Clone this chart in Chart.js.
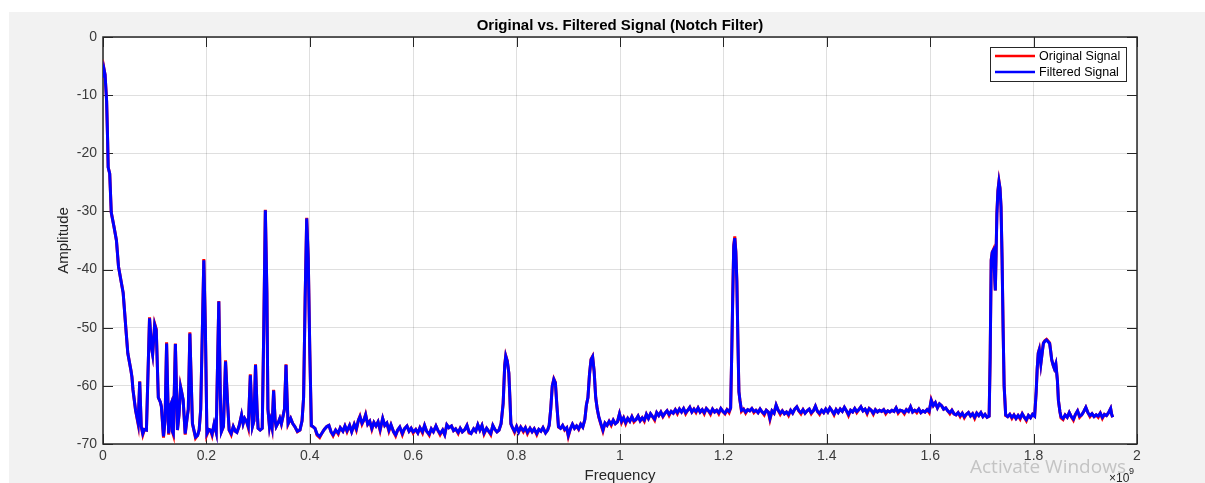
<!DOCTYPE html>
<html>
<head>
<meta charset="utf-8">
<title>Original vs. Filtered Signal (Notch Filter)</title>
<script src="https://cdn.jsdelivr.net/npm/chart.js@4.4.1/dist/chart.umd.min.js"></script>
<style>
  html, body { margin: 0; padding: 0; background: #fff; overflow: hidden; }
  #wrap { width: 1205px; height: 483px; }
</style>
</head>
<body>
<div id="wrap"><canvas id="chart" width="1205" height="483"></canvas></div>
<script>
// frequency, in units of 1e9 (axis shows the x10^9 multiplier)
const freq = [
  0.000, 0.002, 0.004, 0.007, 0.009, 0.010, 0.013, 0.016, 0.021, 0.026,
  0.030, 0.035, 0.039, 0.045, 0.048, 0.054, 0.056, 0.058, 0.063, 0.068,
  0.071, 0.074, 0.077, 0.080, 0.084, 0.090, 0.094, 0.096, 0.100, 0.103,
  0.107, 0.111, 0.113, 0.117, 0.120, 0.123, 0.127, 0.130, 0.132, 0.134,
  0.136, 0.140, 0.144, 0.147, 0.150, 0.152, 0.155, 0.159, 0.163, 0.165,
  0.168, 0.173, 0.179, 0.183, 0.186, 0.189, 0.195, 0.198, 0.201, 0.205,
  0.208, 0.211, 0.215, 0.219, 0.224, 0.227, 0.229, 0.233, 0.237, 0.241,
  0.244, 0.248, 0.252, 0.256, 0.259, 0.263, 0.268, 0.271, 0.274, 0.278,
  0.281, 0.285, 0.289, 0.292, 0.295, 0.298, 0.300, 0.304, 0.308, 0.311,
  0.314, 0.317, 0.319, 0.322, 0.324, 0.327, 0.330, 0.333, 0.335, 0.339,
  0.342, 0.345, 0.348, 0.351, 0.354, 0.356, 0.358, 0.363, 0.367, 0.371,
  0.376, 0.381, 0.385, 0.388, 0.391, 0.394, 0.397, 0.400, 0.403, 0.406,
  0.410, 0.414, 0.419, 0.423, 0.428, 0.433, 0.437, 0.441, 0.445, 0.450,
  0.455, 0.459, 0.464, 0.468, 0.472, 0.477, 0.481, 0.486, 0.490, 0.494,
  0.497, 0.501, 0.505, 0.508, 0.512, 0.516, 0.520, 0.524, 0.528, 0.532,
  0.536, 0.541, 0.545, 0.549, 0.553, 0.557, 0.562, 0.566, 0.570, 0.574,
  0.579, 0.583, 0.588, 0.592, 0.596, 0.600, 0.605, 0.609, 0.613, 0.618,
  0.622, 0.626, 0.631, 0.635, 0.639, 0.644, 0.648, 0.652, 0.657, 0.661,
  0.665, 0.669, 0.674, 0.678, 0.682, 0.687, 0.691, 0.695, 0.700, 0.704,
  0.708, 0.712, 0.717, 0.721, 0.725, 0.729, 0.733, 0.737, 0.742, 0.746,
  0.750, 0.754, 0.758, 0.762, 0.766, 0.770, 0.774, 0.777, 0.779, 0.782,
  0.785, 0.787, 0.789, 0.792, 0.796, 0.800, 0.804, 0.808, 0.813, 0.817,
  0.821, 0.826, 0.830, 0.834, 0.839, 0.843, 0.847, 0.851, 0.856, 0.860,
  0.863, 0.866, 0.869, 0.872, 0.875, 0.878, 0.881, 0.885, 0.889, 0.893,
  0.897, 0.900, 0.904, 0.908, 0.912, 0.916, 0.920, 0.924, 0.928, 0.932,
  0.935, 0.938, 0.941, 0.944, 0.947, 0.950, 0.953, 0.956, 0.959, 0.963,
  0.967, 0.971, 0.975, 0.979, 0.983, 0.987, 0.991, 0.995, 0.999, 1.003,
  1.007, 1.011, 1.015, 1.019, 1.023, 1.027, 1.031, 1.035, 1.039, 1.043,
  1.047, 1.051, 1.055, 1.059, 1.063, 1.067, 1.071, 1.075, 1.079, 1.083,
  1.087, 1.091, 1.095, 1.099, 1.103, 1.107, 1.111, 1.115, 1.119, 1.123,
  1.127, 1.131, 1.135, 1.139, 1.143, 1.147, 1.151, 1.155, 1.159, 1.163,
  1.167, 1.171, 1.175, 1.179, 1.183, 1.187, 1.191, 1.195, 1.199, 1.203,
  1.207, 1.211, 1.214, 1.216, 1.218, 1.220, 1.222, 1.224, 1.226, 1.228,
  1.230, 1.232, 1.235, 1.239, 1.243, 1.247, 1.251, 1.255, 1.259, 1.263,
  1.267, 1.271, 1.275, 1.279, 1.283, 1.287, 1.290, 1.294, 1.298, 1.302,
  1.306, 1.310, 1.314, 1.318, 1.322, 1.326, 1.330, 1.334, 1.338, 1.342,
  1.346, 1.350, 1.354, 1.358, 1.362, 1.366, 1.370, 1.374, 1.378, 1.382,
  1.386, 1.390, 1.394, 1.398, 1.402, 1.406, 1.410, 1.414, 1.418, 1.422,
  1.426, 1.430, 1.434, 1.438, 1.442, 1.446, 1.450, 1.454, 1.458, 1.462,
  1.466, 1.470, 1.474, 1.478, 1.482, 1.486, 1.490, 1.494, 1.498, 1.502,
  1.506, 1.510, 1.514, 1.518, 1.522, 1.526, 1.530, 1.534, 1.538, 1.542,
  1.546, 1.550, 1.554, 1.558, 1.562, 1.566, 1.570, 1.574, 1.578, 1.582,
  1.586, 1.590, 1.594, 1.598, 1.602, 1.606, 1.610, 1.614, 1.618, 1.622,
  1.626, 1.630, 1.634, 1.638, 1.642, 1.646, 1.650, 1.654, 1.658, 1.662,
  1.666, 1.670, 1.674, 1.678, 1.682, 1.686, 1.690, 1.694, 1.698, 1.702,
  1.706, 1.710, 1.714, 1.716, 1.718, 1.720, 1.722, 1.724, 1.726, 1.729,
  1.731, 1.733, 1.735, 1.737, 1.739, 1.741, 1.743, 1.746, 1.750, 1.754,
  1.758, 1.762, 1.766, 1.770, 1.774, 1.778, 1.782, 1.786, 1.790, 1.794,
  1.798, 1.802, 1.805, 1.807, 1.809, 1.811, 1.814, 1.817, 1.819, 1.822,
  1.825, 1.828, 1.831, 1.833, 1.835, 1.838, 1.840, 1.843, 1.846, 1.848,
  1.851, 1.853, 1.857, 1.861, 1.865, 1.869, 1.873, 1.877, 1.881, 1.885,
  1.889, 1.893, 1.897, 1.901, 1.905, 1.909, 1.913, 1.917, 1.921, 1.925,
  1.929, 1.933, 1.937, 1.941, 1.945, 1.949, 1.951, 1.953
];

// amplitude of the unfiltered spectrum (red)
const originalSignal = [
  -7.0, -5.5, -6.5, -11, -18, -22.4, -23.5, -30.2, -32.5, -35,
  -39.5, -42, -44, -51, -54.4, -57.3, -58.5, -60.7, -64.2, -66.6,
  -59.2, -67, -68.4, -67.5, -67.6, -48.2, -53.5, -54.6, -49.3, -50.2,
  -62, -62.8, -63.6, -68.9, -66, -52.5, -68.4, -63.5, -63, -67.8,
  -68.4, -52.7, -67.6, -65, -60.1, -61, -62.4, -68.4, -65.3, -64,
  -50.8, -66.5, -69, -68.5, -67.6, -64, -38.2, -50, -68.4, -67.5,
  -67.6, -68.5, -66.6, -68, -45.4, -62, -67.9, -67, -55.6, -63,
  -67.6, -68.4, -67, -67.8, -68, -67, -65, -66.5, -65.6, -66.2,
  -67.2, -58, -67, -66, -56.3, -64, -67.3, -67.6, -67.3, -50,
  -29.7, -44, -64, -67, -66, -67.3, -60.7, -66, -67, -66.3,
  -65.6, -66.6, -65.3, -64, -56.3, -62, -66.6, -65.6, -66.5, -67,
  -67.9, -67.6, -66, -62, -45, -31.1, -38, -54, -66.9, -67,
  -67.3, -68.5, -68.9, -68.2, -67.5, -67, -66.8, -67.9, -68.6, -67.6,
  -68.3, -67.2, -67.8, -66.9, -67.9, -66.8, -67.9, -66.6, -67.6, -65.9,
  -65.2, -66.6, -65.8, -64.9, -66.6, -66.1, -67.5, -66.3, -66.9, -66.2,
  -67.7, -65.6, -66.8, -66.4, -67.8, -66.7, -67.9, -68.6, -67.6, -67.1,
  -68.4, -67.4, -66.9, -67.8, -67.3, -68.1, -67.5, -68.1, -67.2, -68.1,
  -66.8, -67.8, -68.5, -67.4, -67.9, -66.9, -67.7, -68.4, -67.6, -68.4,
  -66.7, -67.2, -66.9, -67.7, -67.4, -68.2, -67.3, -67.9, -67.5, -66.8,
  -68.1, -68.2, -67.4, -67.8, -66.7, -67.6, -66.8, -68.3, -67.3, -67.8,
  -68.4, -66.8, -67.5, -67.9, -67.6, -66.5, -63, -56.4, -54.8, -55.7,
  -57.8, -62, -66.6, -67.2, -68, -67, -67.9, -67.1, -67.9, -67.2,
  -68.2, -67.3, -67.9, -67.4, -68.4, -67.5, -67.8, -67.2, -68.1, -67.6,
  -66.8, -64, -60, -58.8, -59.4, -63.5, -67.1, -67.3, -66.8, -67.6,
  -67.2, -68.7, -67.4, -66.6, -67.3, -66.9, -67.5, -66.6, -67.1, -65.8,
  -63.3, -62, -58, -55.4, -54.9, -57.5, -62, -64, -65.4, -66.6,
  -67.8, -66.4, -66.8, -66.1, -66.8, -65.9, -66.5, -66.2, -64.8, -66.3,
  -65.5, -66.5, -65.6, -66.1, -65.3, -66.2, -65.8, -65.2, -66, -65.5,
  -66.1, -64.9, -65.6, -64.8, -65.3, -65.9, -64.6, -65.1, -64.5, -65.3,
  -64.7, -64.3, -65.1, -64.4, -64.7, -64.1, -64.8, -64, -64.5, -63.9,
  -64.8, -64.2, -63.7, -64.5, -64, -64.6, -63.8, -64.5, -64.1, -64.8,
  -63.9, -64.3, -64.9, -64, -64.5, -64.2, -64.8, -63.9, -64.4, -64.8,
  -64.1, -64.6, -63.8, -55, -45, -35.8, -34.3, -36.8, -42, -52,
  -61, -62.5, -64.4, -64, -64.7, -64.1, -64.3, -63.9, -64.6, -64.2,
  -64.6, -64, -64.5, -65, -64.2, -64.5, -65.8, -64.3, -64.7, -63.3,
  -64.2, -64.9, -64.3, -64.8, -64.5, -65.1, -64.2, -64.7, -64, -63.6,
  -64.3, -64.8, -64.1, -64.7, -64.3, -64, -64.8, -64.3, -63.5, -64.4,
  -64.9, -64.2, -64.6, -64, -64.5, -63.8, -64.3, -65, -64.1, -64.6,
  -64, -64.4, -63.7, -64.3, -65.1, -64.2, -64.5, -63.9, -64.6, -64.1,
  -63.6, -64.3, -64, -64.8, -63.9, -64.2, -64.9, -64.1, -64.5, -64.2,
  -64.4, -64.1, -64.8, -64.3, -64.5, -64.2, -64.4, -63.8, -64.7, -64.2,
  -64.3, -64.8, -64.1, -64.4, -63.6, -64.5, -64.2, -64.6, -64, -64.6,
  -64.3, -64.5, -64.1, -64.6, -62.4, -63.4, -62.9, -63.8, -63.1, -63.4,
  -64, -63.8, -64.3, -64.8, -64.2, -64.8, -65, -64.6, -65.3, -64.7,
  -65.5, -64.9, -64.6, -65.2, -64.8, -65.6, -64.7, -65.1, -64.6, -65.3,
  -64.9, -65.4, -65.2, -55, -38.3, -37, -36.6, -40, -43.6, -30.3,
  -26.4, -24.8, -26, -29.2, -38, -50, -60, -65.1, -65.3, -64.9,
  -65.6, -65, -65.6, -65.1, -65.7, -64.8, -65.4, -66, -65.1, -65.5,
  -64.9, -65.2, -61, -57, -54.3, -53.7, -56.2, -54, -52.6, -52.2,
  -52, -52.3, -52.6, -54, -55.5, -56.5, -57, -56.2, -59, -62.5,
  -64.5, -65.5, -65.8, -65, -65.4, -64.6, -65.3, -65.9, -64.9, -64.3,
  -65.4, -65, -64.4, -63.7, -64.6, -65.3, -64.8, -65.3, -65, -65.4,
  -64.7, -65.6, -64.9, -65.1, -64.6, -63.9, -64.9, -65.4
];

// amplitude after the notch filter (blue)
const filteredSignal = [
  -7.0, -5.6, -6.5, -11, -18, -22.4, -23.5, -30.2, -32.5, -35,
  -39.5, -42, -44, -51, -54.4, -57.3, -58.5, -60.7, -64.2, -66.4,
  -59.3, -67, -68.2, -67.5, -67.6, -48.4, -53.5, -54.6, -49.5, -50.4,
  -62, -62.8, -63.6, -68.7, -66, -52.7, -68.2, -63.5, -63, -67.8,
  -68.2, -52.8, -67.6, -65, -60.2, -61, -62.4, -68.2, -65.3, -64,
  -51, -66.5, -68.8, -68.5, -67.6, -64, -38.4, -50, -68.2, -67.5,
  -67.6, -68.3, -66.5, -68, -45.5, -62, -67.9, -67, -55.8, -63,
  -67.6, -68.2, -67, -67.8, -68, -67, -65, -66.5, -65.6, -66.2,
  -67, -58.2, -67, -66, -56.4, -64, -67.3, -67.6, -67.3, -50,
  -29.8, -44, -64, -67, -66, -67.2, -60.8, -66, -67, -66.3,
  -65.6, -66.5, -65.3, -64, -56.4, -62, -66.5, -65.6, -66.5, -67,
  -67.8, -67.6, -66, -62, -45, -31.2, -38, -54, -66.8, -67,
  -67.3, -68.3, -68.7, -68.2, -67.5, -67, -66.8, -67.9, -68.4, -67.6,
  -68.1, -67.2, -67.8, -66.9, -67.7, -66.8, -67.9, -66.6, -67.4, -65.9,
  -65.3, -66.4, -65.8, -65, -66.6, -66.1, -67.3, -66.3, -66.9, -66.2,
  -67.5, -65.6, -66.8, -66.4, -67.6, -66.7, -67.9, -68.4, -67.6, -67.1,
  -68.2, -67.4, -66.9, -67.8, -67.3, -67.9, -67.5, -68.1, -67.2, -67.9,
  -66.8, -67.8, -68.3, -67.4, -67.9, -66.9, -67.7, -68.2, -67.6, -68.4,
  -66.7, -67.2, -66.9, -67.7, -67.4, -68, -67.3, -67.9, -67.5, -66.8,
  -67.9, -68.2, -67.4, -67.8, -66.7, -67.6, -66.8, -68.1, -67.3, -67.8,
  -68.2, -66.8, -67.5, -67.9, -67.6, -66.5, -63, -56.5, -54.9, -55.8,
  -57.8, -62, -66.5, -67.2, -67.8, -67, -67.9, -67.1, -67.7, -67.2,
  -68, -67.3, -67.9, -67.4, -68.2, -67.5, -67.8, -67.2, -68.1, -67.6,
  -66.8, -64, -60, -58.9, -59.5, -63.5, -67, -67.3, -66.8, -67.5,
  -67.2, -68.5, -67.4, -66.6, -67.3, -66.9, -67.4, -66.6, -67.1, -65.8,
  -63.3, -62, -58, -55.5, -55, -57.5, -62, -64, -65.3, -66.5,
  -67.6, -66.4, -66.8, -66.1, -66.6, -65.9, -66.5, -66.2, -64.8, -66.1,
  -65.5, -66.3, -65.6, -66.1, -65.3, -66, -65.8, -65.2, -66, -65.5,
  -65.9, -64.9, -65.6, -64.8, -65.3, -65.7, -64.6, -65.1, -64.5, -65.2,
  -64.7, -64.3, -64.9, -64.4, -64.7, -64.1, -64.6, -64, -64.5, -63.9,
  -64.6, -64.2, -63.7, -64.5, -64, -64.4, -63.8, -64.5, -64.1, -64.6,
  -63.9, -64.3, -64.7, -64, -64.5, -64.2, -64.6, -63.9, -64.4, -64.7,
  -64.1, -64.4, -63.8, -55, -45, -36, -34.6, -37, -42, -52,
  -61, -62.5, -64.2, -64, -64.5, -64.1, -64.3, -63.9, -64.4, -64.2,
  -64.6, -64, -64.5, -64.8, -64.2, -64.5, -65.6, -64.3, -64.7, -63.3,
  -64.2, -64.7, -64.3, -64.8, -64.5, -64.9, -64.2, -64.7, -64, -63.6,
  -64.3, -64.6, -64.1, -64.7, -64.3, -64, -64.6, -64.3, -63.5, -64.4,
  -64.7, -64.2, -64.6, -64, -64.5, -63.8, -64.3, -64.8, -64.1, -64.6,
  -64, -64.4, -63.7, -64.3, -64.9, -64.2, -64.5, -63.9, -64.4, -64.1,
  -63.6, -64.3, -64, -64.6, -63.9, -64.2, -64.7, -64.1, -64.5, -64.2,
  -64.4, -64.1, -64.6, -64.3, -64.5, -64.2, -64.4, -63.8, -64.5, -64.2,
  -64.3, -64.6, -64.1, -64.4, -63.6, -64.5, -64.2, -64.4, -64, -64.6,
  -64.3, -64.5, -64.1, -64.4, -62.5, -63.4, -62.9, -63.8, -63.1, -63.4,
  -64, -63.8, -64.3, -64.6, -64.2, -64.8, -65, -64.6, -65.1, -64.7,
  -65.3, -64.9, -64.6, -65.2, -64.8, -65.4, -64.7, -65.1, -64.6, -65.3,
  -64.9, -65.4, -65.2, -55, -38.4, -37, -36.7, -40, -43.6, -30.4,
  -26.5, -24.9, -26, -29.2, -38, -50, -60, -65, -65.3, -64.9,
  -65.4, -65, -65.6, -65.1, -65.5, -64.8, -65.4, -65.8, -65.1, -65.5,
  -64.9, -65.2, -61, -57, -54.4, -53.8, -56.2, -54, -52.7, -52.3,
  -52.1, -52.4, -52.7, -54, -55.5, -56.5, -57, -56.2, -59, -62.5,
  -64.5, -65.3, -65.6, -65, -65.4, -64.6, -65.3, -65.7, -64.9, -64.3,
  -65.2, -65, -64.4, -63.7, -64.6, -65.1, -64.8, -65.3, -65, -65.2,
  -64.7, -65.4, -64.9, -65.1, -64.6, -63.9, -64.9, -65.4
];

const xTickValues = [0, 0.2, 0.4, 0.6, 0.8, 1, 1.2, 1.4, 1.6, 1.8, 2];
const yTickValues = [-70, -60, -50, -40, -30, -20, -10, 0];

if (freq.length !== originalSignal.length || freq.length !== filteredSignal.length) {
  console.warn('length mismatch', freq.length, originalSignal.length, filteredSignal.length);
}

const toPoints = ys => freq.map((f, i) => ({x: f, y: ys[i]}));

const AXIS_COLOR = '#262626';
const TICK_LEN = 10;

// matlab-ish figure: grey surround, boxed axes with inward ticks, legend in the corner
const matlabFrame = {
  id: 'matlabFrame',
  beforeDraw(chart) {
    const {ctx, width, height, chartArea: a} = chart;
    ctx.save();
    ctx.fillStyle = '#ffffff';
    ctx.fillRect(0, 0, width, height);
    ctx.fillStyle = '#f2f2f2';
    ctx.fillRect(9, 12, width - 9, height - 12);
    ctx.fillStyle = '#ffffff';
    ctx.fillRect(a.left, a.top, a.right - a.left, a.bottom - a.top);
    ctx.restore();
  },
  beforeDatasetsDraw(chart) {
    const {ctx, chartArea: a, scales} = chart;
    ctx.save();
    ctx.strokeStyle = AXIS_COLOR;
    ctx.lineWidth = 1;
    ctx.beginPath();
    xTickValues.forEach(v => {
      const px = Math.round(scales.x.getPixelForValue(v)) + 0.5;
      ctx.moveTo(px, a.bottom); ctx.lineTo(px, a.bottom - TICK_LEN);
      ctx.moveTo(px, a.top); ctx.lineTo(px, a.top + TICK_LEN);
    });
    yTickValues.forEach(v => {
      const py = Math.round(scales.y.getPixelForValue(v)) + 0.5;
      ctx.moveTo(a.left, py); ctx.lineTo(a.left + TICK_LEN, py);
      ctx.moveTo(a.right, py); ctx.lineTo(a.right - TICK_LEN, py);
    });
    ctx.stroke();
    ctx.lineWidth = 1.5;
    ctx.strokeRect(a.left, a.top, a.right - a.left, a.bottom - a.top);
    ctx.restore();
  },
  afterDraw(chart) {
    const {ctx, chartArea: a} = chart;
    ctx.save();
    // legend box
    const w = 136, h = 34;
    const lx = a.right - 11 - w, ly = a.top + 10;
    ctx.fillStyle = '#ffffff';
    ctx.fillRect(lx, ly, w, h);
    ctx.strokeStyle = AXIS_COLOR;
    ctx.lineWidth = 1;
    ctx.strokeRect(lx + 0.5, ly + 0.5, w, h);
    ctx.font = '12.5px "Liberation Sans", Arial, sans-serif';
    ctx.textBaseline = 'middle';
    ctx.textAlign = 'left';
    chart.data.datasets.forEach((ds, i) => {
      const yy = ly + 9 + i * 16;
      ctx.strokeStyle = ds.borderColor;
      ctx.lineWidth = 2.5;
      ctx.beginPath();
      ctx.moveTo(lx + 5, yy); ctx.lineTo(lx + 45, yy);
      ctx.stroke();
      ctx.fillStyle = '#000000';
      ctx.fillText(ds.label, lx + 49, yy + 1);
    });
    // exponent label of the x axis
    ctx.fillStyle = AXIS_COLOR;
    ctx.font = '12px "Liberation Sans", Arial, sans-serif';
    ctx.textBaseline = 'alphabetic';
    ctx.fillText('\u00d710', a.right - 28, 482);
    ctx.font = '9px "Liberation Sans", Arial, sans-serif';
    ctx.fillText('9', a.right - 8, 474);
    // windows watermark seen on the screenshot
    ctx.fillStyle = 'rgba(150,150,150,0.5)';
    ctx.font = '19px "Open Sans", "Noto Sans", sans-serif';
    ctx.fillText('Activate Windows', 970, 473);
    ctx.restore();
  }
};

Chart.defaults.font.family = '"Liberation Sans", Arial, sans-serif';
Chart.defaults.color = AXIS_COLOR;

new Chart(document.getElementById('chart'), {
  type: 'line',
  data: {
    datasets: [
      {
        label: 'Original Signal',
        data: toPoints(originalSignal),
        borderColor: '#ff0000',
        borderWidth: 3,
        pointRadius: 0,
        tension: 0,
        order: 2
      },
      {
        label: 'Filtered Signal',
        data: toPoints(filteredSignal),
        borderColor: '#0000ff',
        borderWidth: 3,
        pointRadius: 0,
        tension: 0,
        order: 1
      }
    ]
  },
  options: {
    responsive: false,
    animation: false,
    devicePixelRatio: 1,
    layout: {padding: {left: 0, right: 68, top: 0, bottom: 0}},
    plugins: {
      legend: {display: false},
      tooltip: {enabled: false},
      title: {
        display: true,
        fullSize: false,
        text: 'Original vs. Filtered Signal (Notch Filter)',
        color: '#000000',
        font: {size: 15, weight: 'bold'},
        padding: {top: 17, bottom: 2}
      }
    },
    scales: {
      x: {
        type: 'linear',
        min: 0,
        max: 2,
        afterBuildTicks: s => { s.ticks = xTickValues.map(v => ({value: v})); },
        afterFit: s => { s.height = 39; },
        ticks: {
          autoSkip: false,
          maxRotation: 0,
          padding: 4,
          font: {size: 14},
          color: '#3a3a3a',
          callback: v => String(v)
        },
        grid: {color: 'rgba(38,38,38,0.15)', drawTicks: false},
        border: {display: false},
        title: {display: true, text: 'Frequency', font: {size: 15}, color: AXIS_COLOR, padding: {top: 0, bottom: -2}}
      },
      y: {
        min: -70,
        max: 0,
        afterBuildTicks: s => { s.ticks = yTickValues.map(v => ({value: v})); },
        afterFit: s => { s.width = 103; },
        ticks: {
          autoSkip: false,
          padding: 6,
          font: {size: 14},
          color: '#3a3a3a',
          callback: v => String(v)
        },
        grid: {color: 'rgba(38,38,38,0.15)', drawTicks: false},
        border: {display: false},
        title: {display: true, text: 'Amplitude', font: {size: 15}, color: AXIS_COLOR, padding: {top: 55, bottom: 0}}
      }
    }
  },
  plugins: [matlabFrame]
});
</script>
</body>
</html>
